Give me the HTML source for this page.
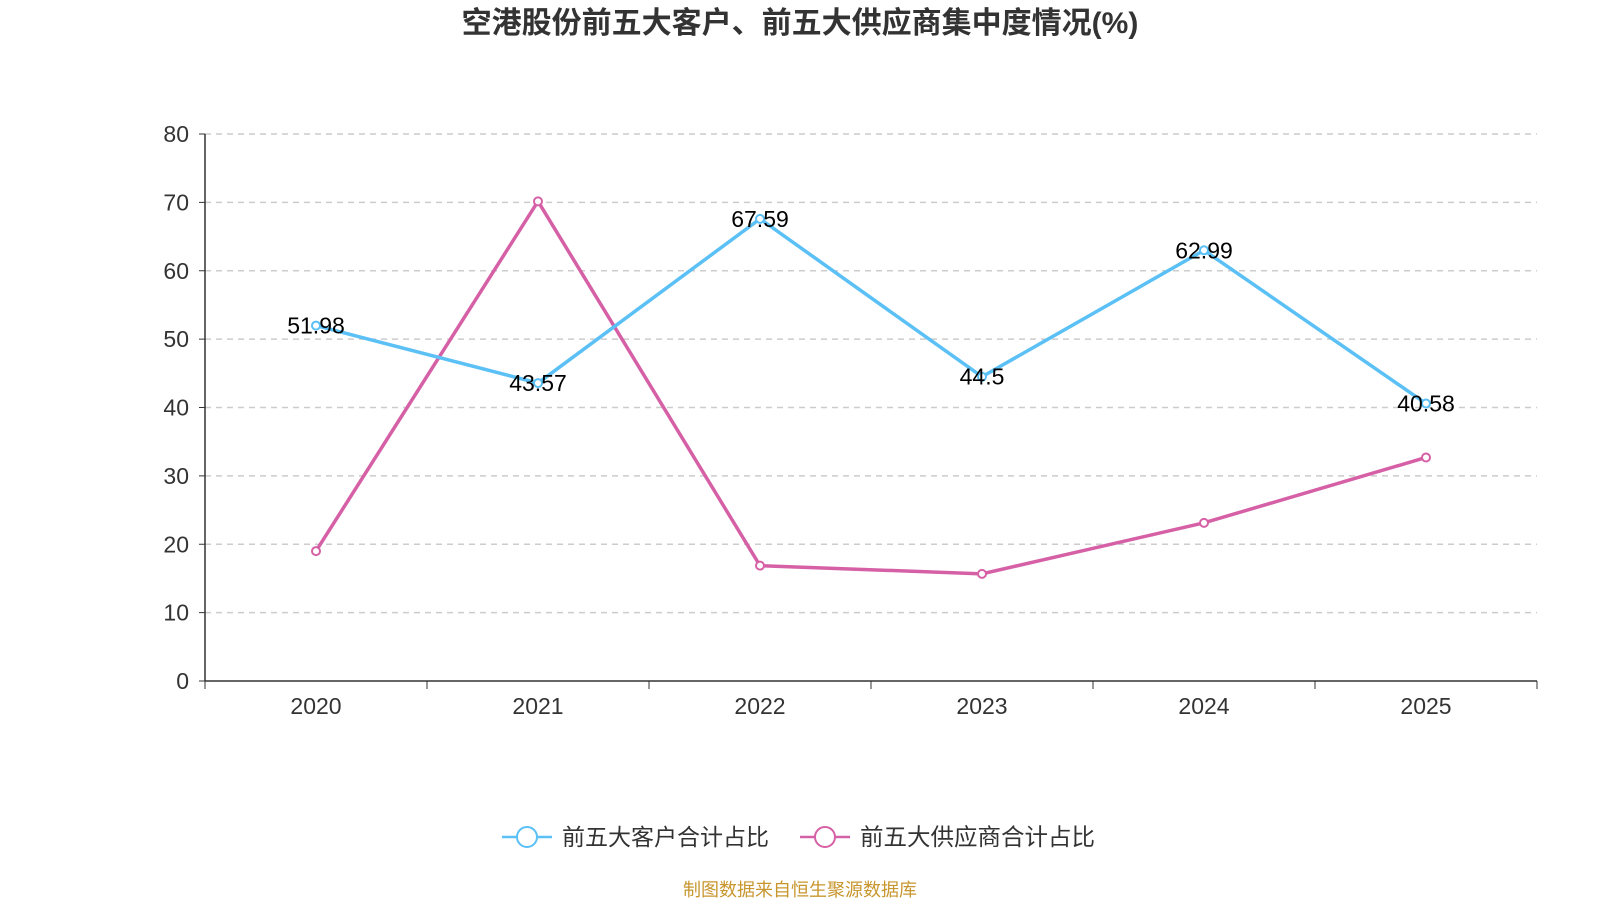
<!DOCTYPE html>
<html><head><meta charset="utf-8"><style>
body{margin:0;background:#fff;width:1600px;height:900px;overflow:hidden;font-family:"Liberation Sans","Noto Sans CJK SC",sans-serif}
</style></head><body>
<svg id="chart" width="1600" height="900" xmlns="http://www.w3.org/2000/svg" font-family="'Liberation Sans','Noto Sans CJK SC',sans-serif">
<text x="800" y="33" text-anchor="middle" font-size="30" font-weight="bold" fill="#333">空港股份前五大客户、前五大供应商集中度情况(%)</text>
<g id="grid"></g><g id="axes"></g><g id="series"></g>
<g>
<g>
<line x1="502" y1="837" x2="552" y2="837" stroke="#5bc0f5" stroke-width="2.5"/><circle cx="527" cy="837" r="10" fill="#fff" stroke="#5bc0f5" stroke-width="2"/>
<text x="562" y="845" font-size="23" fill="#333">前五大客户合计占比</text></g>
<g>
<line x1="800" y1="837" x2="850" y2="837" stroke="#d660a6" stroke-width="2.5"/><circle cx="825" cy="837" r="10" fill="#fff" stroke="#d660a6" stroke-width="2"/>
<text x="860" y="845" font-size="23.5" fill="#333">前五大供应商合计占比</text></g>
</g>
<text x="800" y="896" text-anchor="middle" font-size="18" fill="#c8962e">制图数据来自恒生聚源数据库</text>
</svg>
<script>
const categories=["2020","2021","2022","2023","2024","2025"];
const customers=[51.98,43.57,67.59,44.5,62.99,40.58];
const suppliers=[19.0,70.15,16.87,15.67,23.13,32.69];
const yTicks=[0,10,20,30,40,50,60,70,80];
const NS="http://www.w3.org/2000/svg";
const x0=205,x1=1537,y0=681,yTop=134,yMax=80;
const band=(x1-x0)/categories.length;
const xs=i=>x0+band*(i+0.5);
const ys=v=>y0-(v/yMax)*(y0-yTop);
function mk(tag,attrs,parent,text){const e=document.createElementNS(NS,tag);for(const k in attrs)e.setAttribute(k,attrs[k]);if(text!==undefined)e.textContent=text;parent.appendChild(e);return e;}
const grid=document.getElementById('grid'),axes=document.getElementById('axes'),ser=document.getElementById('series');
yTicks.forEach(t=>{const y=ys(t);
 if(t>0){const l=mk('line',{x1:x0,x2:x1,y1:y,y2:y,stroke:'#ccc','stroke-dasharray':'6,5','stroke-width':1.5},grid);
 
 }
 mk('line',{x1:x0-6,x2:x0,y1:y,y2:y,stroke:'#333'},axes);
 const tx=mk('text',{x:x0-16,y:y+8,'text-anchor':'end','font-size':23,fill:'#333'},axes,t);
 
 
});
mk('line',{x1:x0,x2:x0,y1:yTop,y2:y0,stroke:'#333','stroke-width':1.5},axes);
mk('line',{x1:x0,x2:x1,y1:y0,y2:y0,stroke:'#333','stroke-width':1.5},axes);
for(let i=0;i<=categories.length;i++){const x=x0+band*i;mk('line',{x1:x,x2:x,y1:y0,y2:y0+8,stroke:'#333'},axes);}
categories.forEach((c,i)=>{const t=mk('text',{x:xs(i),y:y0+33,'text-anchor':'middle','font-size':23,fill:'#333'},axes,c);
 
 });
function draw(data,color,name,labels){
 const p=mk('polyline',{points:data.map((v,i)=>xs(i)+','+ys(v)).join(' '),fill:'none',stroke:color,'stroke-width':3.5},ser);
 
 
 data.forEach((v,i)=>{const c=mk('circle',{cx:xs(i),cy:ys(v),r:4,fill:'#fff',stroke:color,'stroke-width':2},ser);
  
  
  if(labels){const t=mk('text',{x:xs(i),y:ys(v)+8,'text-anchor':'middle','font-size':23,fill:'#000'},ser,v);
   
   }
 });
}
draw(suppliers,'#d660a6','suppliers',false);
draw(customers,'#5bc0f5','customers',true);
</script>
</body></html>
